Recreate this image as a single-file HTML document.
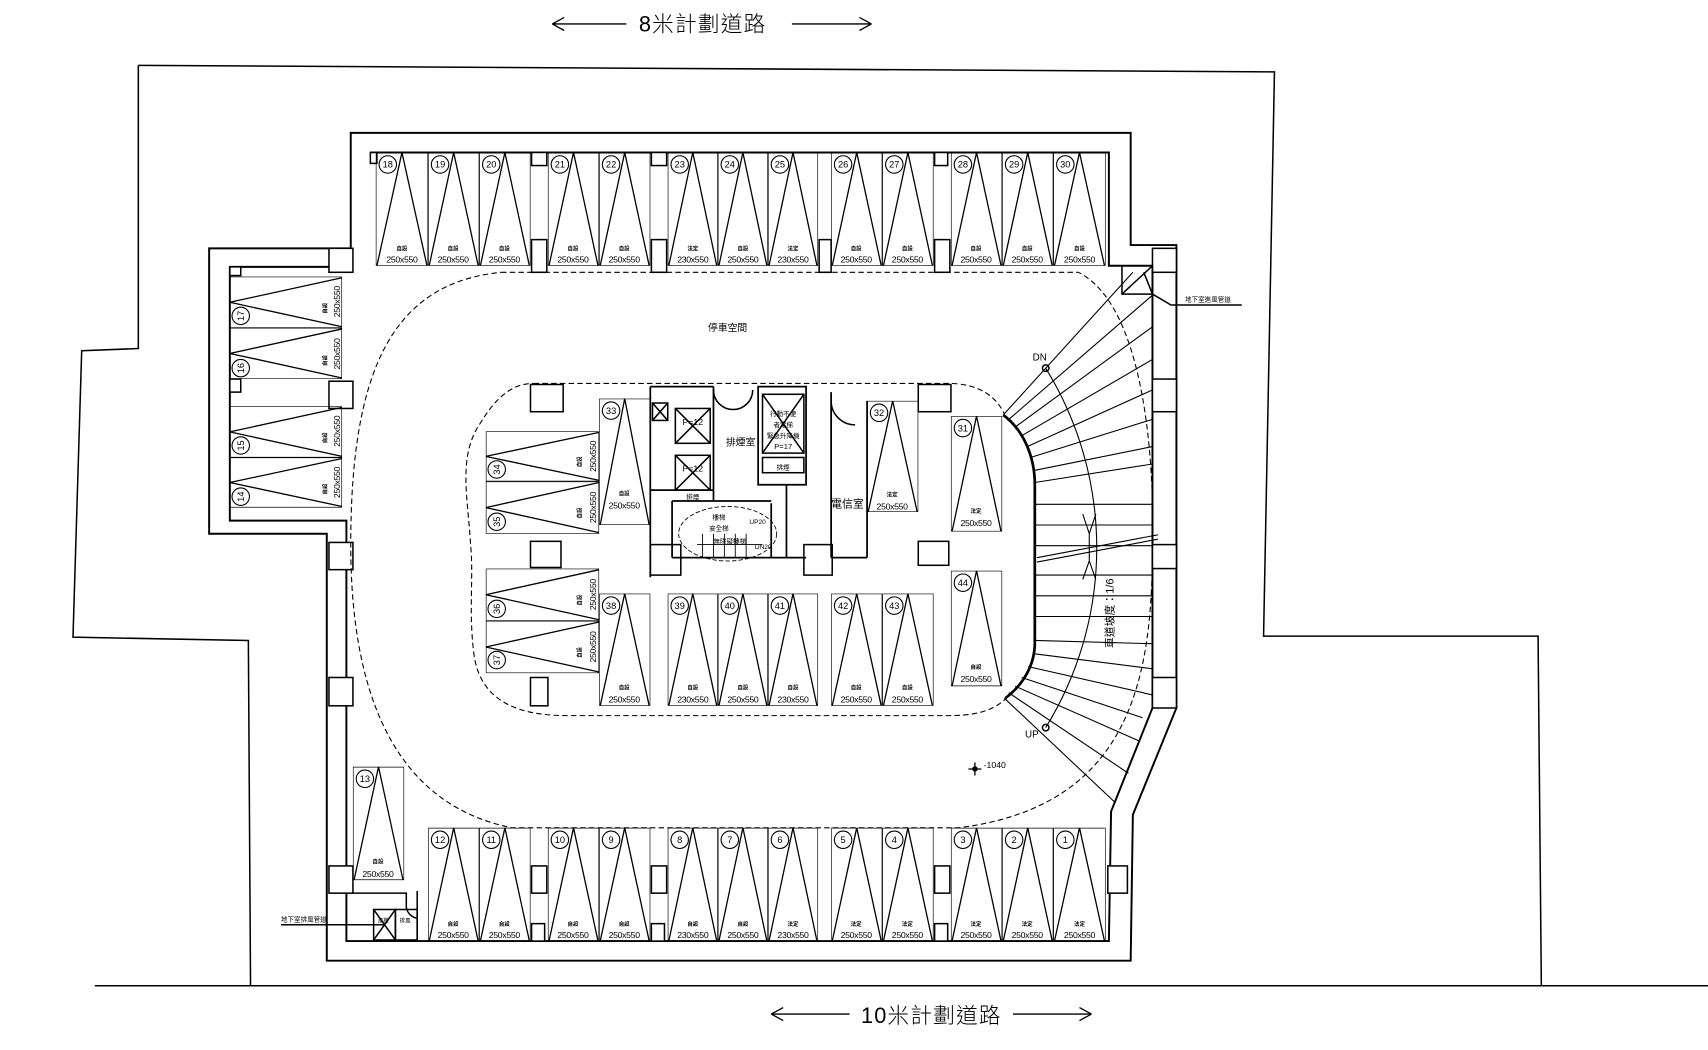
<!DOCTYPE html>
<html><head><meta charset="utf-8"><style>
html,body{margin:0;padding:0;background:#fff}
svg{display:block}
text{font-family:"Liberation Sans","Noto Sans CJK TC",sans-serif;fill:#000}
</style></head><body>
<svg width="1708" height="1050" viewBox="0 0 1568 964" preserveAspectRatio="none" xmlns="http://www.w3.org/2000/svg">
<defs>
<symbol id="sv" viewBox="0 0 47 104" preserveAspectRatio="none"><g fill="none" stroke="#000" stroke-width="1.3" vector-effect="non-scaling-stroke"><rect x="0" y="0" width="47" height="104" vector-effect="non-scaling-stroke"/><path d="M23.5 0 L1 104 M23.5 0 L46 104" vector-effect="non-scaling-stroke"/></g></symbol>
<symbol id="sh" viewBox="0 0 104 47" preserveAspectRatio="none"><g fill="none" stroke="#000" stroke-width="1.3"><rect x="0" y="0" width="104" height="47" vector-effect="non-scaling-stroke"/><path d="M104 1 L0 23.5 L104 46" vector-effect="non-scaling-stroke"/></g></symbol>
</defs>
<rect width="1568" height="964" fill="#fff"/>
<g fill="none" stroke="#000" stroke-width="1.4">
<!-- site -->
<path d="M127,60 L1170,66 L1160,584 L1412,584 L1415,905"/>
<path d="M127,60 L127,320 L75,322 L67,585 L228,588 L230,905"/>
<path d="M87,905 L1568,905"/>
<!-- walls -->
<path d="M322,122 L1038,122 L1038,225 L1080,225 L1080,650 L1040,748 L1038,882 L300,882 L300,490 L192,490 L192,228 L322,228 Z" stroke-width="1.8"/>
<path d="M340,140 L1018,140 L1018,244 L1058,244 L1058,650 L1020,745 L1018,864 L318,864 L318,478 L211,478 L211,245 L318,245" stroke-width="1.8"/>
<!-- pillars -->
<g fill="#fff">
<rect x="302" y="228" width="22" height="22"/><rect x="1058" y="228" width="22" height="22"/>
<rect x="488" y="220" width="14" height="30"/><rect x="598" y="220" width="14" height="30"/><rect x="752" y="220" width="11" height="30"/><rect x="858" y="220" width="14" height="30"/>
<rect x="488" y="140" width="14" height="12"/><rect x="598" y="140" width="14" height="12"/><rect x="858" y="140" width="12" height="12"/><rect x="340" y="140" width="6" height="10"/>
<rect x="302" y="350" width="22" height="25"/><rect x="302" y="498" width="22" height="25"/><rect x="302" y="622" width="22" height="26"/><rect x="302" y="795" width="22" height="25"/>
<rect x="1058" y="348" width="22" height="30"/><rect x="1058" y="500" width="22" height="22"/><rect x="1058" y="622" width="22" height="28"/><rect x="1017" y="795" width="18" height="25"/>
<rect x="488" y="795" width="14" height="25"/><rect x="598" y="795" width="14" height="25"/><rect x="858" y="795" width="14" height="25"/>
<rect x="488" y="848" width="12" height="16"/><rect x="598" y="848" width="12" height="16"/><rect x="858" y="848" width="12" height="16"/>
<rect x="211" y="348" width="10" height="12"/><rect x="211" y="245" width="10" height="8"/>
<rect x="487" y="353" width="30" height="25"/><rect x="843" y="353" width="30" height="25"/>
<rect x="487" y="497" width="28" height="24"/><rect x="843" y="497" width="28" height="22"/>
<rect x="597" y="500" width="28" height="28"/><rect x="738" y="500" width="26" height="28"/>
<rect x="487" y="622" width="16" height="26"/>
</g>
<!-- dashed loops -->
<path stroke-dasharray="5,3" stroke-width="1" d="M460,250 L990,250 C1050,280 1060,420 1058,500 C1058,620 1040,740 880,760 L470,760 C370,740 322,650 322,500 C322,340 360,260 460,250 Z"/>
<path stroke-dasharray="5,3" stroke-width="1" d="M490,352 L870,352 C900,352 915,365 922,380 M925,640 C910,655 890,657 870,657 L520,657 C470,657 440,640 435,600 C430,560 435,530 432,500 C430,460 420,420 440,390 C455,365 470,352 490,352"/>
<!-- ramp inner wall -->
<path stroke-width="2.5" d="M921,381 C940,395 950,420 950,445 L950,590 C950,610 940,628 923,641"/>
<!-- solid arc -->
<path stroke-width="1" d="M960,338 A314,314 0 0 1 960,668"/>
<g stroke-width="1">
<path d="M921,381 L1040,250 M925,386 L1058,271 M932,392 L1058,300 M938,400 L1058,330 M943,410 L1058,358 M946,420 L1058,385 M949,432 L1058,410 M950,443 L1058,426"/>
<path d="M950,463 L1058,463 M950,482 L1058,482 M950,501 L1058,501 M950,547 L1058,547 M950,566 L1058,566 M950,528 L1058,528"/>
<path d="M952,512 L1063,491 M952,516 L1063,495"/>
<path d="M950,588 L1058,591 M948,600 L1058,614 M944,612 L1058,638 M938,622 L1049,659 M932,630 L1045,680 M926,636 L1036,710 M922,641 L1024,737"/>
<path d="M1006,472 L1000,490 L994,472 M1006,532 L1000,515 L994,532 M1000,490 L1000,515"/>
</g>
<circle cx="960" cy="338" r="3"/><circle cx="960" cy="668" r="3"/>
<!-- vents -->
<rect x="1030" y="244" width="28" height="26"/><path d="M1030,270 L1058,244 M1050,250 L1058,270 M1058,270 L1075,280 L1140,280"/>
<rect x="343" y="835" width="20" height="28"/><path d="M343,835 L363,863 M363,835 L343,863 M353,849 L258,849"/>
<rect x="363" y="835" width="20" height="28"/>
<path d="M324,820 L373,820 L373,833 M383,818 L383,864 M373,833 A12,12 0 0 0 383,843"/>
<!-- core walls -->
<path stroke-width="1.6" d="M597,355 L597,530 M655,355 L655,460 M597,355 L655,355 M597,450 L655,450 M617,460 L708,460 M617,460 L617,512 M617,512 L740,512 M708,462 L708,512 M722,445 L722,512 M696,355 L740,355 L740,445 L696,445 Z M763,360 L763,512 M796,368 L796,512 M763,512 L796,512"/>
<rect x="620" y="375" width="32" height="32"/><path d="M620,375 L652,407 M652,375 L620,407"/>
<rect x="620" y="418" width="32" height="32"/><path d="M620,418 L652,450 M652,418 L620,450"/>
<rect x="700" y="362" width="38" height="54"/><path d="M700,362 L738,416 M738,362 L700,416"/>
<rect x="700" y="420" width="38" height="14"/>
<rect x="599" y="370" width="14" height="16"/><path d="M599,370 L613,386 M613,370 L599,386"/>
<path d="M655,358 A18,18 0 0 0 673,376 M691,358 A18,18 0 0 1 673,376 M763,368 A22,22 0 0 0 785,390"/>
<ellipse cx="668" cy="490" rx="45" ry="25" stroke-dasharray="4,2" stroke-width="0.8"/>
<path d="M640,500 L700,500 M645,490 L645,512 M655,490 L655,512 M665,490 L665,512 M675,490 L675,512 M685,490 L685,512" stroke-width="0.8"/>
</g>
<!-- stalls -->
<g>
<use href="#sv" x="345" y="140" width="48" height="104"/><use href="#sv" x="393" y="140" width="47" height="104"/><use href="#sv" x="440" y="140" width="47" height="104"/>
<use href="#sv" x="503" y="140" width="47" height="104"/><use href="#sv" x="550" y="140" width="47" height="104"/>
<use href="#sv" x="613" y="140" width="46" height="104"/><use href="#sv" x="659" y="140" width="46" height="104"/><use href="#sv" x="705" y="140" width="46" height="104"/>
<use href="#sv" x="763" y="140" width="47" height="104"/><use href="#sv" x="810" y="140" width="47" height="104"/>
<use href="#sv" x="873" y="140" width="47" height="104"/><use href="#sv" x="920" y="140" width="47" height="104"/><use href="#sv" x="967" y="140" width="48" height="104"/>
<use href="#sv" x="393" y="760" width="47" height="104"/><use href="#sv" x="440" y="760" width="47" height="104"/>
<use href="#sv" x="503" y="760" width="47" height="104"/><use href="#sv" x="550" y="760" width="47" height="104"/>
<use href="#sv" x="613" y="760" width="46" height="104"/><use href="#sv" x="659" y="760" width="46" height="104"/><use href="#sv" x="705" y="760" width="46" height="104"/>
<use href="#sv" x="763" y="760" width="47" height="104"/><use href="#sv" x="810" y="760" width="47" height="104"/>
<use href="#sv" x="873" y="760" width="47" height="104"/><use href="#sv" x="920" y="760" width="47" height="104"/><use href="#sv" x="967" y="760" width="48" height="104"/>
<use href="#sv" x="324" y="704" width="47" height="104"/>
<use href="#sv" x="550" y="366" width="47" height="116"/>
<use href="#sv" x="550" y="545" width="47" height="103"/><use href="#sv" x="613" y="545" width="46" height="103"/><use href="#sv" x="659" y="545" width="46" height="103"/><use href="#sv" x="705" y="545" width="46" height="103"/><use href="#sv" x="763" y="545" width="47" height="103"/><use href="#sv" x="810" y="545" width="47" height="103"/>
<use href="#sv" x="796" y="368" width="47" height="102"/><use href="#sv" x="873" y="382" width="47" height="106"/><use href="#sv" x="873" y="524" width="47" height="106"/>
<use href="#sh" x="211" y="254" width="103" height="47"/><use href="#sh" x="211" y="301" width="103" height="47"/><use href="#sh" x="211" y="373" width="103" height="47"/><use href="#sh" x="211" y="420" width="103" height="46"/>
<use href="#sh" x="446" y="396" width="104" height="46"/><use href="#sh" x="446" y="442" width="104" height="48"/><use href="#sh" x="446" y="522" width="104" height="48"/><use href="#sh" x="446" y="570" width="104" height="48"/>
</g>
<g fill="#fff" stroke="#000" stroke-width="1">
<circle cx="356" cy="151" r="8"/><circle cx="404" cy="151" r="8"/><circle cx="451" cy="151" r="8"/><circle cx="514" cy="151" r="8"/><circle cx="561" cy="151" r="8"/><circle cx="624" cy="151" r="8"/><circle cx="670" cy="151" r="8"/><circle cx="716" cy="151" r="8"/><circle cx="774" cy="151" r="8"/><circle cx="821" cy="151" r="8"/><circle cx="884" cy="151" r="8"/><circle cx="931" cy="151" r="8"/><circle cx="978" cy="151" r="8"/>
<circle cx="404" cy="771" r="8"/><circle cx="451" cy="771" r="8"/><circle cx="514" cy="771" r="8"/><circle cx="561" cy="771" r="8"/><circle cx="624" cy="771" r="8"/><circle cx="670" cy="771" r="8"/><circle cx="716" cy="771" r="8"/><circle cx="774" cy="771" r="8"/><circle cx="821" cy="771" r="8"/><circle cx="884" cy="771" r="8"/><circle cx="931" cy="771" r="8"/><circle cx="978" cy="771" r="8"/>
<circle cx="335" cy="715" r="8"/><circle cx="561" cy="377" r="8"/><circle cx="561" cy="556" r="8"/><circle cx="624" cy="556" r="8"/><circle cx="670" cy="556" r="8"/><circle cx="716" cy="556" r="8"/><circle cx="774" cy="556" r="8"/><circle cx="821" cy="556" r="8"/><circle cx="807" cy="379" r="8"/><circle cx="884" cy="393" r="8"/><circle cx="884" cy="535" r="8"/>
<circle cx="221" cy="290" r="8"/><circle cx="221" cy="338" r="8"/><circle cx="221" cy="409" r="8"/><circle cx="221" cy="456" r="8"/>
<circle cx="456" cy="431" r="8"/><circle cx="456" cy="479" r="8"/><circle cx="456" cy="559" r="8"/><circle cx="456" cy="606" r="8"/>
</g>
<g font-size="8.5" text-anchor="middle">
<text x="356" y="154">18</text><text x="404" y="154">19</text><text x="451" y="154">20</text><text x="514" y="154">21</text><text x="561" y="154">22</text><text x="624" y="154">23</text><text x="670" y="154">24</text><text x="716" y="154">25</text><text x="774" y="154">26</text><text x="821" y="154">27</text><text x="884" y="154">28</text><text x="931" y="154">29</text><text x="978" y="154">30</text>
<text x="404" y="774">12</text><text x="451" y="774">11</text><text x="514" y="774">10</text><text x="561" y="774">9</text><text x="624" y="774">8</text><text x="670" y="774">7</text><text x="716" y="774">6</text><text x="774" y="774">5</text><text x="821" y="774">4</text><text x="884" y="774">3</text><text x="931" y="774">2</text><text x="978" y="774">1</text>
<text x="335" y="718">13</text><text x="561" y="380">33</text><text x="561" y="559">38</text><text x="624" y="559">39</text><text x="670" y="559">40</text><text x="716" y="559">41</text><text x="774" y="559">42</text><text x="821" y="559">43</text><text x="807" y="382">32</text><text x="884" y="396">31</text><text x="884" y="538">44</text>
<text transform="translate(224,290) rotate(-90)">17</text><text transform="translate(224,338) rotate(-90)">16</text><text transform="translate(224,409) rotate(-90)">15</text><text transform="translate(224,456) rotate(-90)">14</text>
<text transform="translate(459,431) rotate(-90)">34</text><text transform="translate(459,479) rotate(-90)">35</text><text transform="translate(459,559) rotate(-90)">36</text><text transform="translate(459,606) rotate(-90)">37</text>
</g>
<g font-size="8" text-anchor="middle" letter-spacing="-0.3">
<text x="369" y="241">250x550</text><text x="416" y="241">250x550</text><text x="463" y="241">250x550</text><text x="526" y="241">250x550</text><text x="573" y="241">250x550</text><text x="636" y="241">230x550</text><text x="682" y="241">250x550</text><text x="728" y="241">230x550</text><text x="786" y="241">250x550</text><text x="833" y="241">250x550</text><text x="896" y="241">250x550</text><text x="943" y="241">250x550</text><text x="991" y="241">250x550</text>
<text x="416" y="861">250x550</text><text x="463" y="861">250x550</text><text x="526" y="861">250x550</text><text x="573" y="861">250x550</text><text x="636" y="861">230x550</text><text x="682" y="861">250x550</text><text x="728" y="861">230x550</text><text x="786" y="861">250x550</text><text x="833" y="861">250x550</text><text x="896" y="861">250x550</text><text x="943" y="861">250x550</text><text x="991" y="861">250x550</text>
<text x="347" y="805">250x550</text><text x="573" y="467">250x550</text><text x="573" y="645">250x550</text><text x="636" y="645">230x550</text><text x="682" y="645">250x550</text><text x="728" y="645">230x550</text><text x="786" y="645">250x550</text><text x="833" y="645">250x550</text><text x="819" y="468">250x550</text><text x="896" y="483">250x550</text><text x="896" y="626">250x550</text>
<text transform="translate(312,277) rotate(-90)">250x550</text><text transform="translate(312,325) rotate(-90)">250x550</text><text transform="translate(312,396) rotate(-90)">250x550</text><text transform="translate(312,443) rotate(-90)">250x550</text>
<text transform="translate(547,419) rotate(-90)">250x550</text><text transform="translate(547,466) rotate(-90)">250x550</text><text transform="translate(547,546) rotate(-90)">250x550</text><text transform="translate(547,594) rotate(-90)">250x550</text>
</g>
<g font-size="5" font-weight="bold" text-anchor="middle">
<text x="369" y="230">自設</text><text x="416" y="230">自設</text><text x="463" y="230">自設</text><text x="526" y="230">自設</text><text x="573" y="230">自設</text><text x="636" y="230">法定</text><text x="682" y="230">自設</text><text x="728" y="230">法定</text><text x="786" y="230">自設</text><text x="833" y="230">自設</text><text x="896" y="230">自設</text><text x="943" y="230">自設</text><text x="991" y="230">自設</text>
<text x="416" y="850">自設</text><text x="463" y="850">自設</text><text x="526" y="850">自設</text><text x="573" y="850">自設</text><text x="636" y="850">自設</text><text x="682" y="850">自設</text><text x="728" y="850">法定</text><text x="786" y="850">法定</text><text x="833" y="850">法定</text><text x="896" y="850">法定</text><text x="943" y="850">法定</text><text x="991" y="850">法定</text>
<text x="347" y="793">自設</text><text x="573" y="455">自設</text><text x="573" y="633">自設</text><text x="636" y="633">自設</text><text x="682" y="633">自設</text><text x="728" y="633">自設</text><text x="786" y="633">自設</text><text x="833" y="633">自設</text><text x="819" y="456">法定</text><text x="896" y="471">法定</text><text x="896" y="614">自設</text>
<text transform="translate(300,283) rotate(-90)">自設</text><text transform="translate(300,331) rotate(-90)">自設</text><text transform="translate(300,402) rotate(-90)">自設</text><text transform="translate(300,449) rotate(-90)">自設</text>
<text transform="translate(534,424) rotate(-90)">自設</text><text transform="translate(534,471) rotate(-90)">自設</text><text transform="translate(534,551) rotate(-90)">自設</text><text transform="translate(534,599) rotate(-90)">自設</text>
</g>
<g font-size="9">
<text x="668" y="304" text-anchor="middle">停車空間</text>
<text x="680" y="409" text-anchor="middle">排煙室</text>
<text x="778" y="466" text-anchor="middle" font-size="10">電信室</text>
<text x="636" y="390" text-anchor="middle" font-size="8">P=12</text>
<text x="636" y="433" text-anchor="middle" font-size="8">P=12</text>
<text x="719" y="382" text-anchor="middle" font-size="6">行動不便</text>
<text x="719" y="392" text-anchor="middle" font-size="6">者電梯</text>
<text x="719" y="402" text-anchor="middle" font-size="6">緊急升降機</text>
<text x="719" y="412" text-anchor="middle" font-size="7">P=17</text>
<text x="719" y="431" text-anchor="middle" font-size="6">排煙</text>
<text x="636" y="458" text-anchor="middle" font-size="6">排煙</text>
<text x="660" y="477" text-anchor="middle" font-size="6">樓梯</text>
<text x="660" y="487" text-anchor="middle" font-size="6">安全梯</text>
<text x="670" y="499" text-anchor="middle" font-size="6">無障礙樓梯</text>
<text x="688" y="481" font-size="6">UP20</text>
<text x="693" y="504" font-size="6">DN20</text>
<text x="948" y="331" font-size="9">DN</text>
<text x="941" y="677" font-size="9">UP</text>
<text x="903" y="705" font-size="8">-1040</text>
<text x="1088" y="277" font-size="6">地下室進風管道</text>
<text x="258" y="846" font-size="6">地下室排風管道</text>
<text x="347" y="847" font-size="5">風機</text><text x="367" y="847" font-size="5">排風</text>
<text transform="translate(1022,595) rotate(-90)" font-size="10">車道坡度：1/6</text>
</g>
<path d="M895,700 L895,712 M889,706 L901,706" stroke="#000" stroke-width="1.2"/><circle cx="895" cy="706" r="2.5" fill="#000"/>
<g stroke="#000" stroke-width="1.2" fill="none">
<path d="M507,22 L575,22 M507,22 L518,16 M507,22 L518,28 M727,22 L800,22 M800,22 L789,16 M800,22 L789,28"/>
<path d="M708,931 L780,931 M708,931 L719,925 M708,931 L719,937 M930,931 L1002,931 M1002,931 L991,925 M1002,931 L991,937"/>
</g>
<text x="645" y="29" font-size="20" text-anchor="middle" font-weight="300" letter-spacing="1">8米計劃道路</text>
<text x="855" y="939" font-size="20" text-anchor="middle" font-weight="300" letter-spacing="1">10米計劃道路</text>
</svg>
</body></html>
